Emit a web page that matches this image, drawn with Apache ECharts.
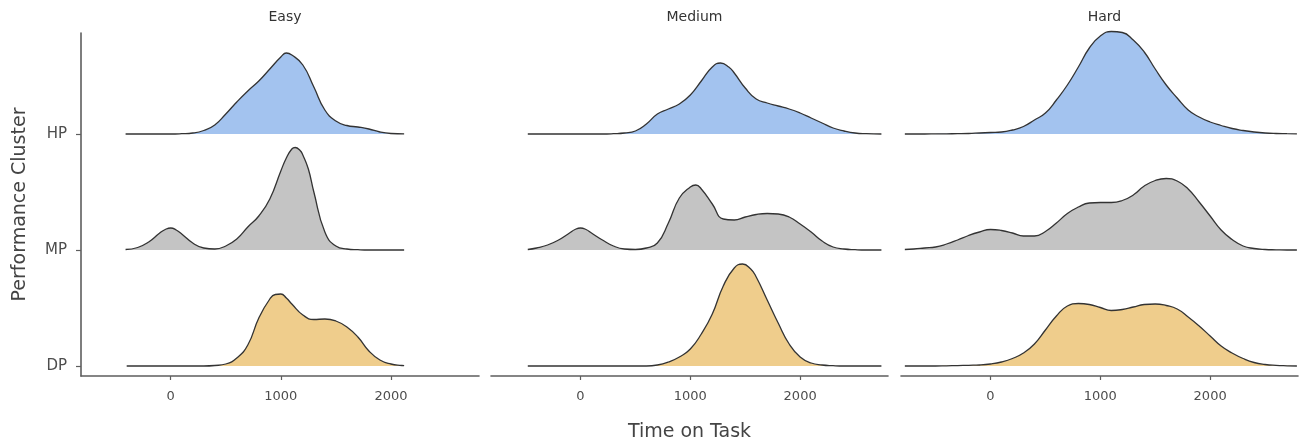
<!DOCTYPE html>
<html>
<head>
<meta charset="utf-8">
<script src="https://cdn.jsdelivr.net/npm/echarts@6/dist/echarts.min.js"></script>
<style>
  html, body { margin: 0; padding: 0; background: #fff; }
  #chart { width: 1299px; height: 444px; }
</style>
</head>
<body>
<div id="chart"></div>
<script>
// facets, ridges (bottom to top) and axis ticks
const panels = ['Easy', 'Medium', 'Hard'];
const clusters = ['DP', 'MP', 'HP'];
const xTicks = [0, 1000, 2000];

// ridge heights, [time, height]; 116 = one row
const easyDP = [[-400,0],[0,0],[300,0],[400,0.5],[500,2],[600,8],[700,21],[800,48],[900,67],[950,71.5],[1000,72],[1050,68],[1100,62],[1200,51],[1300,46.5],[1400,47],[1500,45],[1600,39],[1700,29],[1800,15],[1900,6],[2000,2],[2100,0.5],[2120,0.3]];
const easyMP = [[-410,0.5],[-300,2.5],[-200,8],[-100,17],[-50,20.5],[0,22],[50,20],[100,16],[200,7],[300,2],[400,1],[500,4],[600,11],[700,23],[800,34],[900,51],[1000,79],[1050,92],[1100,101],[1130,102.5],[1175,99.5],[1200,95],[1250,81],[1300,58],[1400,18],[1500,4],[1600,1],[1700,0.3],[1800,0],[2120,0]];
const easyHP = [[-410,0],[0,0],[100,0.3],[200,1],[300,3.5],[400,9],[500,20],[600,32],[700,43],[800,53],[900,65],[1000,77],[1050,81],[1100,79],[1200,69],[1300,47],[1400,24],[1500,13],[1600,8.5],[1700,7],[1800,5],[1900,2],[2000,0.5],[2120,0.1]];

const mediumDP = [[-480,0],[600,0],[700,1],[800,4],[900,9],[1000,17],[1100,32],[1200,52],[1300,80],[1400,98],[1475,102],[1550,97],[1600,89],[1700,66],[1800,43],[1900,22],[2000,9],[2100,3],[2200,1],[2300,0.3],[2400,0],[2740,0]];
const mediumMP = [[-480,0.5],[-400,2],[-300,5],[-200,10],[-100,17],[-50,20.5],[0,22],[50,20.5],[100,17],[200,10],[300,4],[400,1],[500,0.5],[600,2],[700,7],[800,27],[900,52],[1000,63],[1050,65],[1100,61],[1200,46],[1300,31],[1400,30],[1500,33],[1600,35.5],[1700,36.5],[1800,36],[1900,33],[2000,26],[2100,18],[2200,9],[2300,3],[2400,1],[2500,0.3],[2600,0],[2740,0]];
const mediumHP = [[-480,0],[200,0],[300,0.3],[400,1],[500,3],[600,10],[700,20],[800,25],[900,30],[1000,39],[1100,53],[1200,67],[1275,71],[1350,67],[1400,61],[1500,46],[1600,35],[1700,31],[1800,28],[1900,25],[2000,21],[2100,16],[2200,11],[2300,6],[2400,3],[2500,1],[2600,0.3],[2740,0]];

const hardDP = [[-780,0],[-500,0],[-400,0.2],[-300,0.4],[-200,0.7],[-100,1],[0,2],[100,4],[200,7.5],[300,13],[400,22],[500,36],[600,50],[700,60],[800,62.5],[900,61.5],[1000,58.5],[1100,55.5],[1200,56.5],[1300,59],[1400,61.5],[1500,62],[1600,60.5],[1700,57],[1800,49],[1900,40],[2000,30],[2100,20],[2200,13],[2300,7.5],[2400,3.5],[2500,1.5],[2600,0.6],[2700,0.2],[2790,0]];
const hardMP = [[-780,0.5],[-700,1],[-600,2],[-500,3],[-400,6],[-300,10],[-200,14.5],[-100,18],[0,20.5],[100,19.5],[200,17],[300,14],[400,14],[500,18.5],[600,27],[700,36.5],[800,43],[900,47],[1000,47.5],[1100,47.5],[1200,49.5],[1300,55],[1400,64],[1500,69.5],[1600,71.5],[1700,69],[1800,61],[1900,48],[2000,34],[2100,20],[2200,10.5],[2300,4],[2400,1.5],[2500,0.5],[2600,0.2],[2700,0],[2790,0]];
const hardHP = [[-780,0],[-600,0],[-500,0.1],[-400,0.2],[-300,0.3],[-200,0.5],[-100,1],[0,1.5],[100,2],[200,4],[300,7.5],[400,14],[500,21],[600,34],[700,49],[800,67],[900,86],[1000,98],[1100,102.5],[1200,101.5],[1300,94],[1400,82],[1500,65],[1600,49],[1700,36],[1800,24],[1900,17],[2000,12],[2100,8.5],[2200,5.5],[2300,3.5],[2400,2],[2500,1],[2600,0.5],[2700,0.3],[2790,0.1]];

const ridgeData = [
  [easyDP, easyMP, easyHP],
  [mediumDP, mediumMP, mediumHP],
  [hardDP, hardMP, hardHP]
];
const fills = ['#efcd8c', '#c4c4c4', '#a3c3ef'];
const rowHeight = 116;

const font = 'DejaVu Sans';
const chart = echarts.init(document.getElementById('chart'));

const grids = [
  { left: 81, top: 33, width: 398, height: 343, outerBoundsMode: 'none' },
  { left: 491, top: 33, width: 397, height: 343, outerBoundsMode: 'none' },
  { left: 901, top: 33, width: 397, height: 343, outerBoundsMode: 'none' }
];

let xAxes = [];
let yAxes = [];
let series = [];
let titles = [];

panels.forEach((name, p) => {
  xAxes.push({
    gridIndex: p,
    type: 'value',
    min: -815,
    max: 2800,
    splitLine: { show: false },
    axisLine: { show: true, onZero: false, lineStyle: { color: '#5e5e5e', width: 1.6 } },
    axisTick: { show: true, customValues: xTicks, length: 4, lineStyle: { color: '#5e5e5e', width: 1.2 } },
    axisLabel: { customValues: xTicks, formatter: v => String(v), color: '#4d4d4d', fontSize: 13, fontFamily: font, margin: 14 },
    name: p === 1 ? 'Time on Task' : '',
    nameLocation: 'middle',
    nameGap: 47,
    nameTextStyle: { color: '#444', fontSize: 19, fontFamily: font }
  });
  yAxes.push({
    gridIndex: p,
    type: 'value',
    show: p === 0,
    min: -10 / rowHeight,
    max: -10 / rowHeight + 343 / rowHeight,
    splitLine: { show: false },
    axisLine: { show: true, onZero: false, lineStyle: { color: '#5e5e5e', width: 1.6 } },
    axisTick: { show: true, customValues: [0, 1, 2], length: 5, lineStyle: { color: '#5e5e5e', width: 1.2 } },
    axisLabel: {
      customValues: [0, 1, 2],
      formatter: v => clusters[Math.round(v)],
      color: '#4d4d4d', fontSize: 15, fontFamily: font, margin: 14
    },
    name: 'Performance Cluster',
    nameLocation: 'middle',
    nameGap: 51,
    nameTextStyle: { color: '#444', fontSize: 19, fontFamily: font }
  });
  titles.push({
    text: name,
    left: grids[p].left + grids[p].width / 2,
    top: 5,
    textAlign: 'center',
    textStyle: { color: '#333', fontSize: 14, fontWeight: 'normal', fontFamily: font }
  });
  clusters.forEach((c, i) => {
    series.push({
      type: 'line',
      name: name + ' ' + c,
      xAxisIndex: p,
      yAxisIndex: p,
      data: ridgeData[p][i].map(d => [d[0], i + d[1] / rowHeight]),
      smooth: 0.5,
      symbol: 'none',
      clip: false,
      z: 10 - i,
      lineStyle: { color: '#333', width: 1.3 },
      areaStyle: { color: fills[i], opacity: 1, origin: i },
      silent: true
    });
  });
});

chart.setOption({
  animation: false,
  textStyle: { fontFamily: font },
  title: titles,
  grid: grids,
  xAxis: xAxes,
  yAxis: yAxes,
  series: series
});
</script>
</body>
</html>
